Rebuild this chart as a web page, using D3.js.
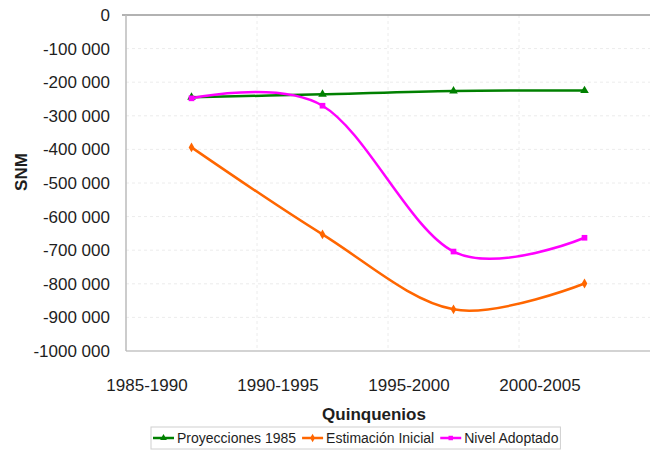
<!DOCTYPE html>
<html>
<head>
<meta charset="utf-8">
<script src="https://d3js.org/d3.v7.min.js"></script>
<style>
  body { margin: 0; background: #fff; }
  text { font-family: "Liberation Sans", Arial, sans-serif; fill: #1e1e1e; }
</style>
</head>
<body>
<div class="chart"></div>
<script>
  // data
  const periods = ['1985-1990', '1990-1995', '1995-2000', '2000-2005'];
  const proyecciones = [-245000, -236000, -226000, -225000];
  const estimacion = [-394000, -653000, -876000, -799000];
  const adoptado = [-248000, -270000, -704000, -663000];
  const yTicks = d3.range(0, -1000001, -100000);

  const seriesNames = ['Proyecciones 1985', 'Estimación Inicial', 'Nivel Adoptado'];
  const seriesColors = ['#008000', '#ff6600', '#ff00ff'];
  const seriesSymbols = [d3.symbolTriangle, d3.symbolDiamond, d3.symbolSquare];
  const seriesValues = [proyecciones, estimacion, adoptado];

  const width = 650, height = 451;
  const margin = { top: 15, right: 0, bottom: 100, left: 126 };

  const svg = d3.select('.chart')
    .append('svg')
    .attr('width', width)
    .attr('height', height);

  const x = d3.scaleBand()
    .domain(periods)
    .range([margin.left, width - margin.right]);

  const y = d3.scaleLinear()
    .domain([0, -1000000])
    .range([margin.top, height - margin.bottom]);

  // Excel style "# ##0": only the thousands get a space
  function fmt(v) {
    if (v === 0) return '0';
    const a = Math.abs(v);
    return (v < 0 ? '-' : '') + Math.floor(a / 1000) + ' ' + String(a % 1000).padStart(3, '0');
  }

  // gridlines
  svg.append('g')
    .selectAll('line')
    .data(yTicks.slice(1, -1))
    .enter()
    .append('line')
    .attr('x1', margin.left)
    .attr('x2', width - margin.right)
    .attr('y1', d => y(d))
    .attr('y2', d => y(d))
    .attr('stroke', '#ececec')
    .attr('stroke-dasharray', '3,3');

  svg.append('g')
    .selectAll('line')
    .data(periods.slice(1))
    .enter()
    .append('line')
    .attr('x1', d => x(d))
    .attr('x2', d => x(d))
    .attr('y1', margin.top)
    .attr('y2', y(-1000000))
    .attr('stroke', '#ececec')
    .attr('stroke-dasharray', '3,3');

  // axis lines
  svg.append('line')
    .attr('x1', margin.left).attr('x2', width)
    .attr('y1', y(-1000000)).attr('y2', y(-1000000))
    .attr('stroke', '#c4c4c4').attr('stroke-width', 1.5);

  svg.append('line')
    .attr('x1', margin.left - 4).attr('x2', width)
    .attr('y1', y(0)).attr('y2', y(0))
    .attr('stroke', '#999').attr('stroke-width', 1.5);

  svg.append('line')
    .attr('x1', margin.left).attr('x2', margin.left)
    .attr('y1', y(0)).attr('y2', y(-1000000))
    .attr('stroke', '#bbb').attr('stroke-width', 1.5);

  // y tick labels
  svg.append('g')
    .selectAll('text')
    .data(yTicks)
    .enter()
    .append('text')
    .attr('x', 110)
    .attr('y', d => y(d))
    .attr('dy', '0.35em')
    .attr('text-anchor', 'end')
    .attr('font-size', '17px')
    .text(d => fmt(d));

  // x tick labels (sit left of the band centres in the original)
  svg.append('g')
    .selectAll('text')
    .data(periods)
    .enter()
    .append('text')
    .attr('x', d => x(d) + 21)
    .attr('y', 391)
    .attr('text-anchor', 'middle')
    .attr('font-size', '17px')
    .text(d => d);

  // axis titles
  svg.append('text')
    .attr('x', 374)
    .attr('y', 420)
    .attr('text-anchor', 'middle')
    .attr('font-size', '17px')
    .attr('font-weight', 'bold')
    .text('Quinquenios');

  svg.append('text')
    .attr('transform', 'translate(27,172) rotate(-90)')
    .attr('text-anchor', 'middle')
    .attr('font-size', '17px')
    .attr('font-weight', 'bold')
    .text('SNM');

  // lines
  const cx = d => x(d) + x.bandwidth() / 2;
  const line = d3.line()
    .x((d, i) => cx(periods[i]))
    .y(d => y(d))
    .curve(d3.curveCardinal.tension(0));

  seriesValues.forEach(function(vals, s) {
    svg.append('path')
      .datum(vals)
      .attr('d', line)
      .attr('fill', 'none')
      .attr('stroke', seriesColors[s])
      .attr('stroke-width', 2.5);

    svg.append('g')
      .selectAll('path')
      .data(vals)
      .enter()
      .append('path')
      .attr('transform', (d, i) => 'translate(' + cx(periods[i]) + ',' + y(d) + ')')
      .attr('d', d3.symbol().type(seriesSymbols[s]).size(s === 1 ? 28 : 32))
      .attr('fill', seriesColors[s]);
  });

  // legend
  const legend = svg.append('g');
  const legendBox = legend.append('rect')
    .attr('fill', 'none')
    .attr('stroke', '#d0d0d0');

  let lx = 153;
  seriesNames.forEach(function(name, s) {
    legend.append('line')
      .attr('x1', lx).attr('x2', lx + 21)
      .attr('y1', 438).attr('y2', 438)
      .attr('stroke', seriesColors[s])
      .attr('stroke-width', 2.5);
    legend.append('path')
      .attr('transform', 'translate(' + (lx + 10.5) + ',438)')
      .attr('d', d3.symbol().type(seriesSymbols[s]).size(20))
      .attr('fill', seriesColors[s]);
    const t = legend.append('text')
      .attr('x', lx + 24)
      .attr('y', 443)
      .attr('font-size', '14px')
      .text(name);
    lx += 24 + t.node().getComputedTextLength() + 6;
  });

  legendBox
    .attr('x', 151)
    .attr('y', 427)
    .attr('width', lx - 151 - 4)
    .attr('height', 22);
</script>
</body>
</html>
